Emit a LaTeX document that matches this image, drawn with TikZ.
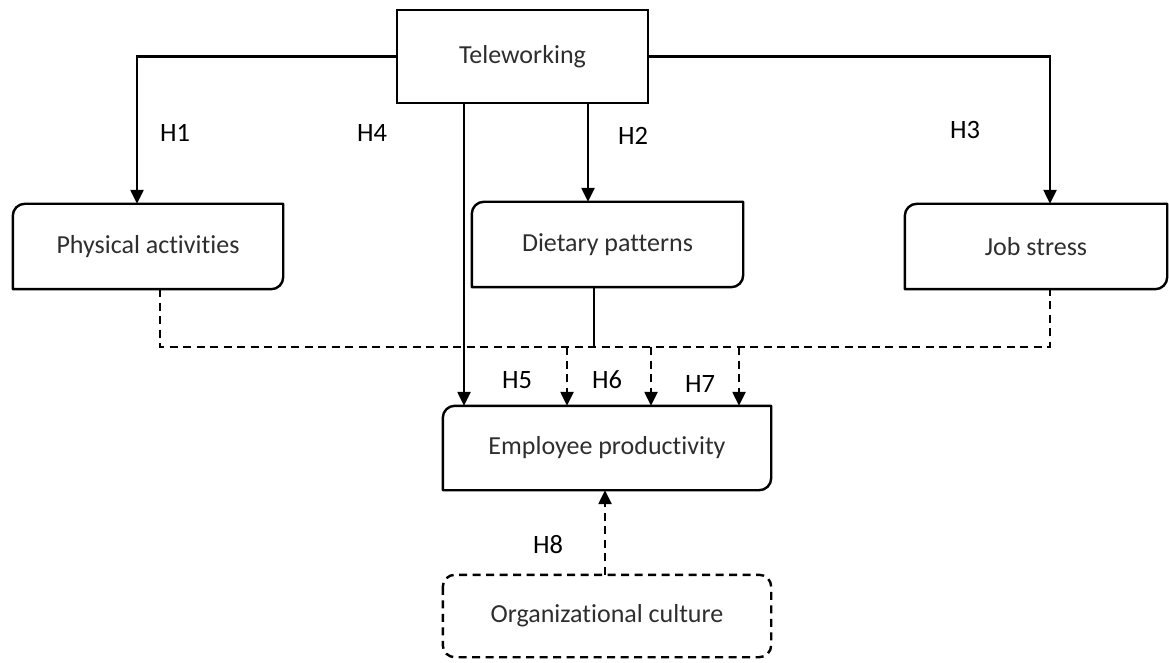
\documentclass[tikz,border=0pt]{standalone}
\usepackage{fontspec}
\setmainfont{Carlito}[Ligatures={NoCommon}]
\usetikzlibrary{arrows.meta}
\tikzset{
  x=1pt,y=1pt,
  boxtxt/.style={inner sep=0pt, font=\fontsize{26}{30}\selectfont, text=black!82},
  plainbox/.style={boxtxt, draw, line width=2.4pt},
  boxline/.style={line width=2.4pt, line join=round},
  conn/.style={line width=2.4pt},
  arr/.style={conn, -{Triangle[length=14pt,width=13pt]}},
  dsh/.style={dash pattern=on 8pt off 5.5pt},
  hlab/.style={font=\fontsize{26.5}{30}\selectfont, text=black}
}
\newcommand\diagbox[1]{\draw[boxline] ([yshift=-12pt]#1.north west) arc[start angle=180,end angle=90,radius=12pt] -- (#1.north east) -- ([yshift=12pt]#1.south east) arc[start angle=0,end angle=-90,radius=12pt] -- (#1.south west) -- cycle;}
\begin{document}
\begin{tikzpicture}
\useasboundingbox (0,0) rectangle (1169,662);
% nodes
\node[plainbox, minimum width=251pt, minimum height=93pt] (tele) at (522.5,605.5) {Teleworking};
\node[boxtxt, minimum width=270pt, minimum height=85pt] (phys) at (148,415.5) {Physical activities};
\node[boxtxt, minimum width=271pt, minimum height=85pt] (diet) at (607.5,417.5) {Dietary patterns};
\node[boxtxt, minimum width=262pt, minimum height=85pt] (job) at (1036,415.5) {Job stress};
\node[boxtxt, minimum width=328pt, minimum height=84pt] (emp) at (607,214) {Employee productivity};
\node[boxtxt, minimum width=328pt, minimum height=82pt] (org) at (607,46) {Organizational culture};
\diagbox{phys}
\diagbox{diet}
\diagbox{job}
\diagbox{emp}
\draw[boxline, dsh, rounded corners=12pt] (org.north west) rectangle (org.south east);
% coordinates
\coordinate (busL) at ([xshift=12pt]phys.south |- 0,315);
\coordinate (busR) at ([xshift=14pt]job.south |- 0,315);
% solid connectors
\draw[arr] (tele.west) -| ([xshift=-11pt]phys.north);
\draw[arr] (tele.east) -| ([xshift=14pt]job.north);
\draw[arr] ([xshift=-58.5pt]tele.south) -- ([xshift=-58.5pt]tele.south |- emp.north);
\draw[arr] ([xshift=65.5pt]tele.south) -- ([xshift=65.5pt]tele.south |- diet.north);
\draw[conn] ([xshift=-13.5pt]diet.south) -- ([xshift=-13.5pt]diet.south |- busL);
% dashed bus
\draw[conn, dsh] ([xshift=12pt]phys.south) -- (busL) -- (busR) -- ([xshift=14pt]job.south);
\draw[arr, dsh] (567,315) -- (567,0 |- emp.north);
\draw[arr, dsh] (651,315) -- (651,0 |- emp.north);
\draw[arr, dsh] (739,315) -- (739,0 |- emp.north);
\draw[arr, dsh] (605,0 |- org.north) -- (605,0 |- emp.south);
% labels
\node[hlab] (h1) at (175,529) {H1};
\node[hlab] (h4) at (372,529) {H4};
\node[hlab] (h2) at (633,526) {H2};
\node[hlab] (h3) at (965,532) {H3};
\node[hlab] (h5) at (517,282) {H5};
\node[hlab] (h6) at (607,282) {H6};
\node[hlab] (h7) at (700,278) {H7};
\node[hlab] (h8) at (548,117) {H8};
\end{tikzpicture}
\end{document}
